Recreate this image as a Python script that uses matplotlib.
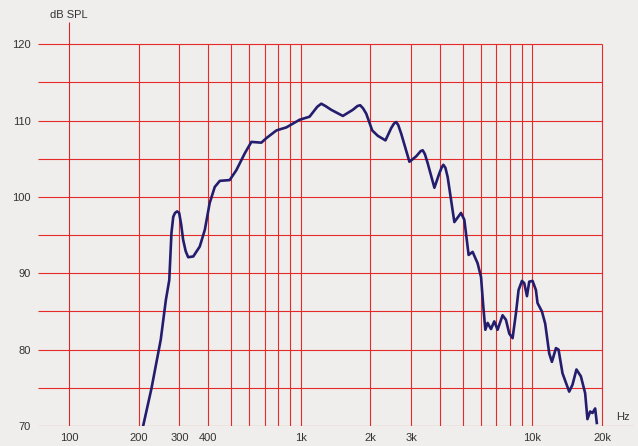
import matplotlib.pyplot as plt

# frequency response (Hz, dB SPL)
freq = [209, 227, 249, 262, 271, 277, 282, 287, 293, 299, 305, 311, 319, 327,
        344, 367, 386, 405, 426, 448, 494, 528, 574, 613, 677, 712, 786, 868,
        990, 1093, 1180, 1228, 1280, 1356, 1522, 1680, 1760, 1808, 1860, 1920,
        2038, 2154, 2325, 2460, 2530, 2585, 2640, 2717, 2950, 3152, 3300, 3367,
        3440, 3538, 3781, 3973, 4070, 4134, 4220, 4314, 4611, 4927, 5091, 5314,
        5529, 5811, 6011, 6150, 6273, 6418, 6637, 6858, 7086, 7447, 7700, 7959,
        8226, 8507, 8729, 9028, 9237, 9489, 9707, 10030, 10373, 10539, 11010,
        11376, 11840, 12160, 12660, 12990, 13510, 14440, 14920, 15520, 16220,
        16920, 17310, 17780, 18200, 18690, 19000]
spl = [70.0, 74.9, 81.3, 86.5, 89.1, 95.3, 97.4, 97.9, 98.1, 97.9, 96.4, 94.4,
       92.9, 92.1, 92.2, 93.5, 95.7, 99.2, 101.3, 102.1, 102.2, 103.5, 105.7,
       107.2, 107.1, 107.7, 108.7, 109.1, 110.1, 110.5, 111.8, 112.2, 111.9,
       111.4, 110.6, 111.4, 111.9, 112.0, 111.6, 110.9, 108.7, 108.0, 107.4,
       109.0, 109.6, 109.8, 109.4, 108.3, 104.6, 105.3, 106.0, 106.1, 105.6,
       104.4, 101.2, 103.1, 103.9, 104.2, 103.8, 102.6, 96.7, 97.9, 97.0, 92.4,
       92.8, 91.3, 89.5, 85.6, 82.6, 83.5, 82.7, 83.7, 82.6, 84.5, 83.9, 82.1,
       81.5, 84.8, 87.8, 89.0, 88.7, 87.0, 88.9, 89.0, 87.8, 86.1, 85.0, 83.4,
       79.5, 78.4, 80.2, 80.0, 76.9, 74.5, 75.4, 77.4, 76.5, 74.3, 70.9, 71.9,
       71.7, 72.3, 70.4]

grid_freqs = [100, 200, 300, 400, 500, 600, 700, 800, 900,
              1000, 2000, 3000, 4000, 5000, 6000, 7000, 8000, 9000,
              10000, 20000]
grid_db = [70, 75, 80, 85, 90, 95, 100, 105, 110, 115, 120]
tick_freqs = [100, 200, 300, 400, 1000, 2000, 3000, 10000, 20000]
tick_labels = ['100', '200', '300', '400', '1k', '2k', '3k', '10k', '20k']
db_ticks = [70, 80, 90, 100, 110, 120]

bg = '#efeeec'
red = '#e52a2a'
navy = '#241d6e'
plt.rcParams['font.family'] = ['Liberation Sans', 'DejaVu Sans']

fig = plt.figure(figsize=(6.38, 4.46), dpi=100, facecolor=bg)
ax = fig.add_axes([38/638, 20/446, 596/638, 404/446])
ax.set_facecolor(bg)
ax.set_xscale('log')
ax.set_xlim(73.5, 27500)
ax.set_ylim(70, 122.9)
for s in ax.spines.values():
    s.set_visible(False)

# grid
for db in grid_db:
    x1 = 27500 if db == 70 else 20000
    ax.hlines(db, 73.5, x1, color=red, lw=0.8, zorder=1)
for f in grid_freqs:
    top = 122.9 if f == 100 else 120
    ax.vlines(f, 70, top, color=red if f != 100 else '#d8262a', lw=0.8, zorder=1)

ax.plot(freq, spl, color=navy, lw=1.9, solid_joinstyle='round', zorder=3)

ax.set_xticks(tick_freqs)
ax.set_xticklabels(tick_labels)
ax.set_xticks([], minor=True)
ax.set_yticks(db_ticks)
ax.tick_params(length=0, labelsize=8, colors='#333333')
ax.tick_params(axis='x', pad=5)
ax.tick_params(axis='y', pad=5)

fig.text(69/638, 1 - 15/446, 'dB SPL', fontsize=8, color='#333333',
         ha='center', va='center')
fig.text(623/638, 1 - 417/446, 'Hz', fontsize=8, color='#333333',
         ha='center', va='center')

fig.savefig('out.png', dpi=100, facecolor=bg)
